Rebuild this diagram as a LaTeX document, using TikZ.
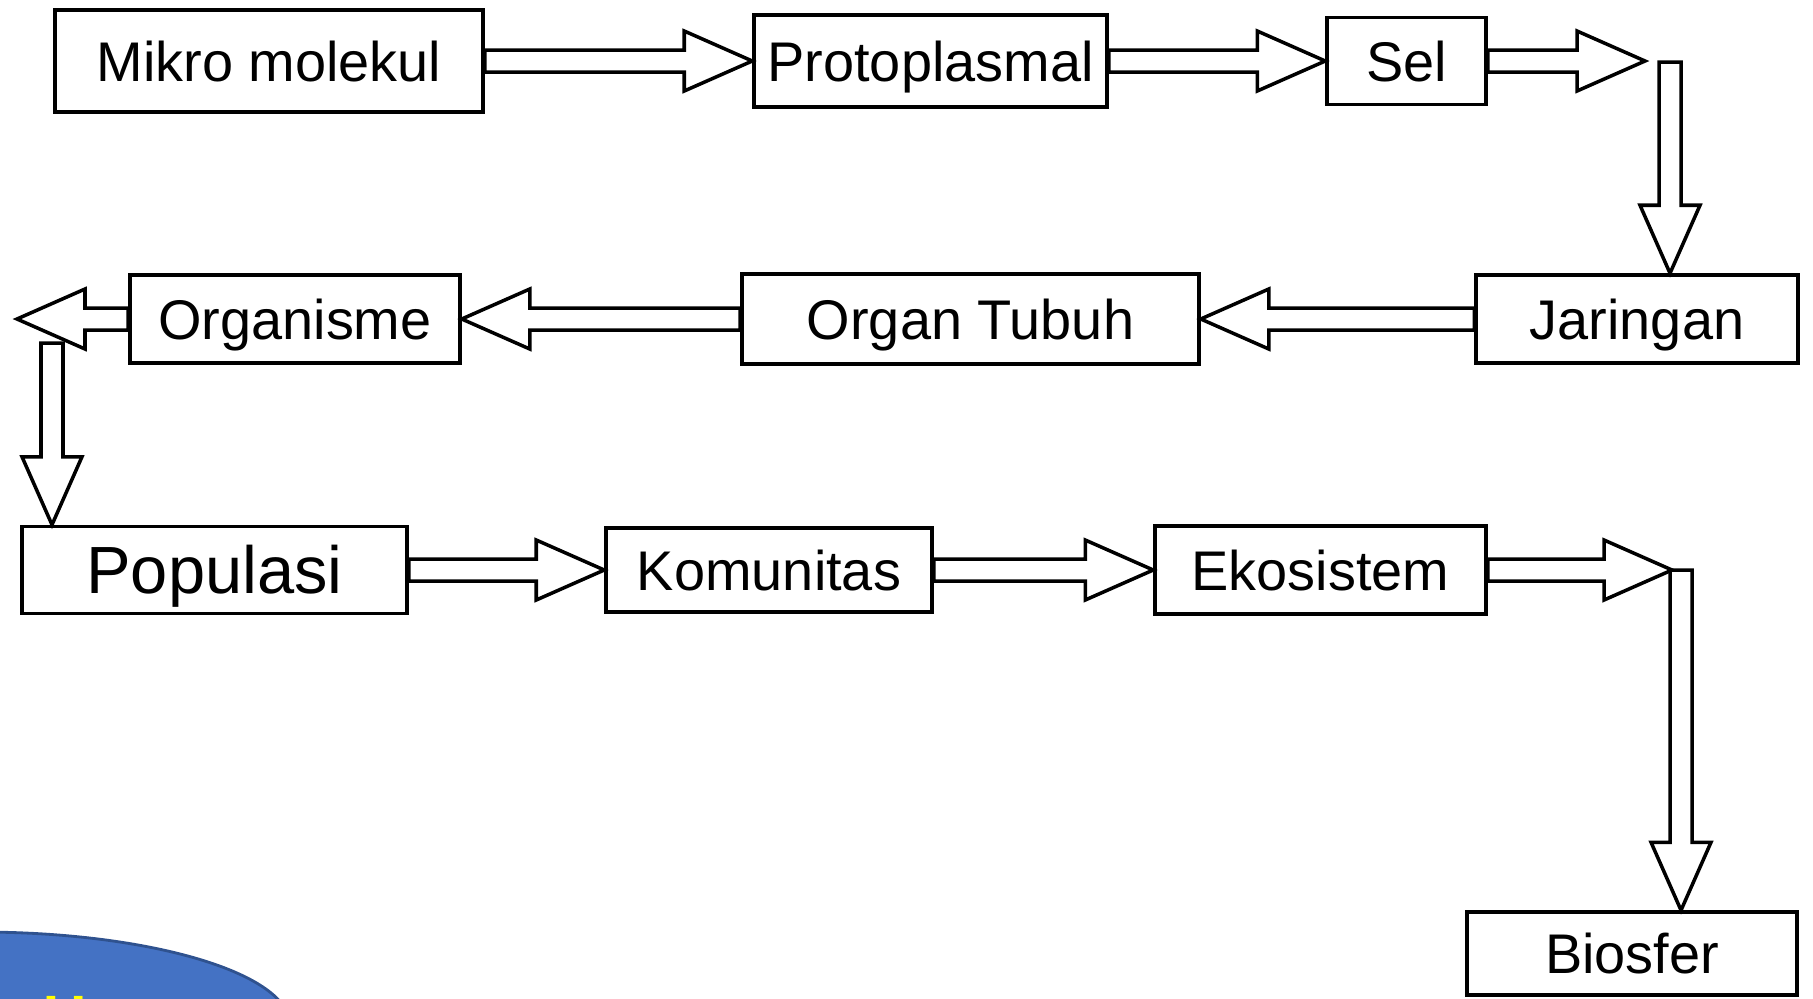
\documentclass[tikz,border=0pt]{standalone}
\usepackage{fontspec}
\setmainfont{Liberation Sans}
\usetikzlibrary{calc}
\definecolor{slideblue}{HTML}{4472C4}
\definecolor{slideedge}{HTML}{2F528F}
\definecolor{slideyellow}{HTML}{FFFF00}
\tikzset{
    box/.style={draw, line width=1pt, inner sep=0pt, text height=11.4pt,
    	text depth=0pt, font=\fontsize{15.9}{19}\selectfont},
    fatarrow/.style={draw, line width=1pt, line join=miter}
}
\newcommand{\blockarrow}[2]{%
	\coordinate (hb) at ($(#2)!0.68cm!(#1)$);
	\draw[fatarrow] ($(#1)!0.11cm!90:(#2)$) -- ($(hb)!0.11cm!90:(#2)$)
		-- ($(hb)!0.30cm!90:(#2)$) -- (#2) -- ($(hb)!0.30cm!-90:(#2)$)
		-- ($(hb)!0.11cm!-90:(#2)$) -- ($(#1)!0.11cm!-90:(#2)$) -- cycle;}

\begin{document}
\begin{tikzpicture}
	\useasboundingbox (0,0) rectangle (18.13,-9.98);
	\begin{scope}
		\clip (0,0) rectangle (18.13,-9.98);
		\fill[slideblue, draw=slideedge, line width=0.8pt] (-0.20,-10.25) ellipse (3.10cm and 0.93cm);
		\node[anchor=base west, inner sep=0pt, text=slideyellow,
			font=\bfseries\fontsize{17}{20}\selectfont] (ulabel) at (0.43,-10.37) {U};
	\end{scope}
	\node[box, minimum width=4.28cm, minimum height=1.02cm] (mikro) at (2.69,-0.61) {Mikro molekul};
	\node[box, minimum width=3.53cm, minimum height=0.92cm] (proto) at (9.305,-0.61) {Protoplasmal};
	\node[box, minimum width=1.59cm, minimum height=0.87cm] (sel) at (14.065,-0.61) {Sel};
	\node[box, minimum width=3.22cm, minimum height=0.88cm] (jaringan) at (16.37,-3.19) {Jaringan};
	\node[box, minimum width=4.57cm, minimum height=0.90cm] (organ) at (9.705,-3.19) {Organ Tubuh};
	\node[box, minimum width=3.30cm, minimum height=0.88cm] (organisme) at (2.95,-3.19) {Organisme};
	\node[box, minimum width=3.85cm, minimum height=0.87cm, text height=13.6pt,
		font=\fontsize{19}{22}\selectfont] (populasi) at (2.145,-5.70) {Populasi};
	\node[box, minimum width=3.26cm, minimum height=0.84cm] (komunitas) at (7.69,-5.70) {Komunitas};
	\node[box, minimum width=3.31cm, minimum height=0.88cm] (ekosistem) at (13.205,-5.70) {Ekosistem};
	\node[box, minimum width=3.30cm, minimum height=0.83cm] (biosfer) at (16.32,-9.535) {Biosfer};
	\coordinate (selend) at (16.45,-0.61);
	\coordinate (selturn) at (16.70,-0.62);
	\coordinate (jtop) at (selturn |- jaringan.north);
	\coordinate (orgend) at (0.17,-3.19);
	\coordinate (orgturn) at (0.52,-3.43);
	\coordinate (ptop) at (orgturn |- populasi.north);
	\coordinate (ekoend) at (16.72,-5.70);
	\coordinate (ekoturn) at (16.81,-5.70);
	\coordinate (btop) at (ekoturn |- biosfer.north);
	\blockarrow{mikro.east}{proto.west}
	\blockarrow{proto.east}{sel.west}
	\blockarrow{sel.east}{selend}
	\blockarrow{selturn}{jtop}
	\blockarrow{jaringan.west}{organ.east}
	\blockarrow{organ.west}{organisme.east}
	\blockarrow{organisme.west}{orgend}
	\blockarrow{orgturn}{ptop}
	\blockarrow{populasi.east}{komunitas.west}
	\blockarrow{komunitas.east}{ekosistem.west}
	\blockarrow{ekosistem.east}{ekoend}
	\blockarrow{ekoturn}{btop}
\end{tikzpicture}
\end{document}
